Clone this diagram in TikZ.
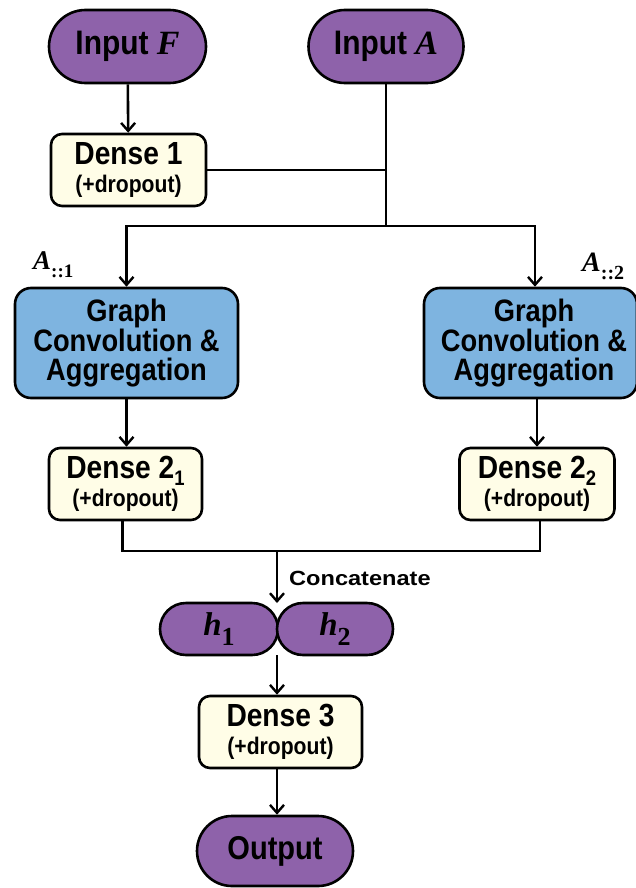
\documentclass[tikz,border=0pt]{standalone}
\usepackage{fontspec}
\setmainfont{Liberation Sans}[FakeStretch=0.88]
\newfontfamily\widesans{Liberation Sans}[FakeStretch=1.15]
\newfontfamily\mathser{Liberation Serif}
\usetikzlibrary{shapes.misc,arrows.meta}
\definecolor{purp}{RGB}{142,98,170}
\definecolor{gcblue}{RGB}{126,180,224}
\definecolor{cream}{RGB}{255,253,231}
\newcommand{\mv}[1]{{\mathser\bfseries\itshape #1}}
\newcommand{\msb}[2]{\raisebox{-0.3em}{\mathser\bfseries\fontsize{#1}{#1}\selectfont #2}}
\newcommand{\dsub}[1]{\raisebox{-7pt}{\fontsize{21}{21}\selectfont #1}}
\newcommand{\drop}{{\fontsize{24}{28.5}\selectfont (+dropout)}}
\tikzset{
  lw/.style={line width=2.6pt},
  term/.style={rounded rectangle, draw, lw, fill=purp, inner sep=0pt,
    font=\bfseries\fontsize{34}{36}\selectfont},
  dbox/.style={rectangle, rounded corners=11pt, draw, lw, fill=cream, inner sep=0pt,
    align=center, font=\bfseries\fontsize{32}{28.5}\selectfont},
  gbox/.style={rectangle, rounded corners=16pt, draw, lw, fill=gcblue, inner sep=0pt,
    align=center, font=\bfseries\fontsize{31}{28.5}\selectfont},
  conn/.style={lw},
  arr/.style={lw, -{Straight Barb[length=8pt,width=14pt,line width=2.4pt]}},
  lab/.style={inner sep=0pt}
}
\begin{document}
\begin{tikzpicture}[x=1pt,y=-1pt]
\useasboundingbox (0,0) rectangle (636,888);
% inputs
\node[term, minimum width=157pt, minimum height=73pt] (inF) at (127.5,46.5) {Input \mv{F}};
\node[term, minimum width=155pt, minimum height=73pt] (inA) at (386,46.5) {Input \mv{A}};
% dense 1
\node[dbox, minimum width=155pt, minimum height=72pt] (d1) at (128.5,170)
  {Dense 1\\\drop};
% graph conv
\node[gbox, minimum width=223pt, minimum height=110pt] (gc1) at (126.5,343)
  {Graph\\Convolution \&\\Aggregation};
\node[gbox, minimum width=213pt, minimum height=110pt] (gc2) at (530.5,343)
  {\hspace*{7pt}Graph\\\hspace*{7pt}Convolution \&\\\hspace*{7pt}Aggregation};
% labels
\node[lab, anchor=south west] (a1) at (33,278) {\fontsize{27}{27}\selectfont\mv{A}\msb{19}{::1}};
\node[lab, anchor=south west] (a2) at (582,280) {\fontsize{28}{28}\selectfont\mv{A}\msb{20}{::2}};
% dense 2
\node[dbox, minimum width=153pt, minimum height=72pt] (d21) at (125.5,484)
  {Dense 2\dsub{1}\\\drop};
\node[dbox, minimum width=155pt, minimum height=72pt] (d22) at (537,484)
  {Dense 2\dsub{2}\\\drop};
% h nodes
\node[term, minimum width=118pt, minimum height=52pt] (h1) at (219,629)
  {\fontsize{33}{33}\selectfont\mv{h}\msb{26}{1}};
\node[term, minimum width=116pt, minimum height=52pt] (h2) at (335,629)
  {\fontsize{33}{33}\selectfont\mv{h}\msb{26}{2}};
% dense 3
\node[dbox, minimum width=163pt, minimum height=72pt] (d3) at (280.5,732)
  {Dense 3\\\drop};
% output
\node[term, minimum width=156pt, minimum height=70pt, font=\bfseries\fontsize{33}{35}\selectfont] (out) at (275,851) {Output};
% coordinates
\coordinate (j1) at (386,226);
\coordinate (m) at (277,551);
\coordinate (htop) at (277,603);
\coordinate (hbot) at (277,655);
% connectors
\draw[arr] (inF) -- (d1);
\draw[conn] (inA.south) -- (j1);
\draw[conn] (d1.east) -- (d1.east -| j1);
\draw[arr] (j1) -| (gc1.north);
\draw[arr] (j1) -| ([xshift=4.5pt]gc2.north);
\draw[arr] (gc1.south) -- (gc1.south |- d21.north);
\draw[arr] (d22.north |- gc2.south) -- (d22.north);
\draw[conn] ([xshift=-3pt]d21.south) |- (m);
\draw[conn] ([xshift=3pt]d22.south) |- (m);
\draw[arr] (m) -- (htop);
\node[anchor=west, font=\widesans\bfseries\fontsize{20.5}{23}\selectfont, inner sep=0pt] (cat) at (289,578) {Concatenate};
\draw[arr] (hbot) -- (hbot |- d3.north);
\draw[arr] (hbot |- d3.south) -- (hbot |- out.north);
\end{tikzpicture}
\end{document}
